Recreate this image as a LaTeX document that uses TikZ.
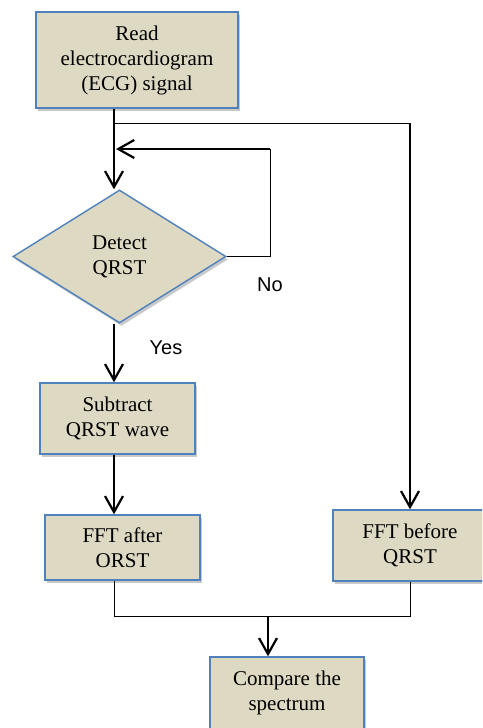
\documentclass[tikz,border=0pt]{standalone}
\usepackage{fontspec}
\setmainfont{Liberation Serif}
\newfontfamily\labelfont{Liberation Sans}
\usetikzlibrary{arrows.meta,shapes.geometric,shadows}
\definecolor{boxfill}{HTML}{DDD9C3}
\definecolor{boxline}{HTML}{4F81BD}
\tikzset{
  x=1pt, y=-1pt,
  boxstyle/.style={draw=boxline, line width=1.4pt, fill=boxfill, align=center,
    font=\fontsize{21}{25}\selectfont, inner sep=0pt,
    drop shadow={shadow xshift=2pt, shadow yshift=-3pt, opacity=0.35, fill=black!60}},
  procbox/.style={boxstyle, rectangle},
  decbox/.style={boxstyle, diamond},
  arr/.style={draw=black, line width=2.2pt, -{Straight Barb[length=16pt,width=18pt,line width=2.2pt]}},
  thinline/.style={draw=black, line width=1pt},
  lbl/.style={font=\labelfont\fontsize{20}{24}\selectfont, inner sep=0pt}
}
\begin{document}
\begin{tikzpicture}
\useasboundingbox (0,0) rectangle (482,728);
\clip (0,0) rectangle (482,728);
\fill[white] (0,0) rectangle (482,728);

\node[procbox, minimum width=202pt, minimum height=96pt] (read) at (137,60)
  {Read\\electrocardiogram\\(ECG) signal};
\node[decbox, minimum width=213pt, minimum height=133pt] (detect) at (119.5,256.5)
  {Detect\\QRST};
\node[procbox, minimum width=155pt, minimum height=71pt] (subtract) at (117.5,418.5)
  {Subtract\\QRST wave};
\node[procbox, minimum width=155pt, minimum height=65pt] (fftafter) at (122.5,547.5)
  {FFT after\\ORST};
\node[procbox, minimum width=154pt, minimum height=71pt] (fftbefore) at (410,545.5)
  {FFT before\\QRST};
\node[procbox, minimum width=154pt, minimum height=72pt] (compare) at (287,693)
  {Compare the\\spectrum};

\node[lbl] (no) at (270,285) {No};
\node[lbl] (yes) at (166,348) {Yes};

% spine coordinates
\coordinate (sp) at (114,0);
\coordinate (tap) at (114,123);
\coordinate (tapR) at (fftbefore.north |- tap);
\coordinate (lp1) at (270,256.5);
\coordinate (lp2) at (270,149);
\coordinate (lp3) at (116,149);
\coordinate (jl) at (fftafter.south |- 0,616);
\coordinate (jr) at (fftbefore.south |- 0,616);
\coordinate (jm) at (268,616);

% main flow
\draw[arr] (read.south -| sp) -- (detect.north -| sp);
\draw[thinline] (tap) -- (tapR);
\draw[arr] (tapR) -- (fftbefore.north);
\draw[thinline] (detect.east) -- (lp1) -- (lp2);
\draw[arr] (lp2) -- (lp3);
\draw[arr] (detect.south -| sp) -- (subtract.north -| sp);
\draw[arr] (subtract.south -| sp) -- (fftafter.north -| sp);
\draw[thinline] (fftafter.south -| sp) -- (sp |- jl) -- (jr) -- (fftbefore.south);
\draw[arr] (jm) -- (compare.north -| jm);
\end{tikzpicture}
\end{document}
